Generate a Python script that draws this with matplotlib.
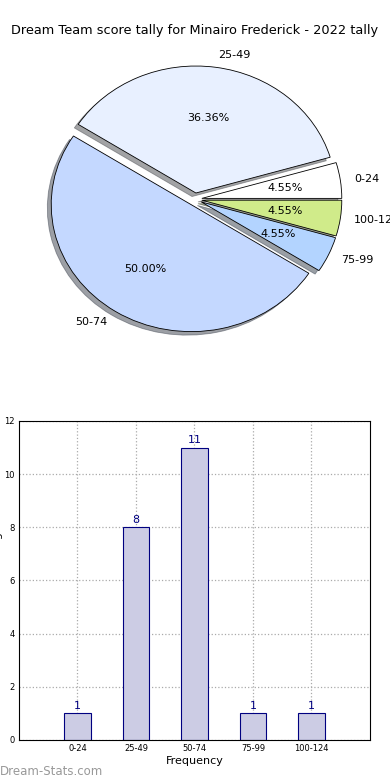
import matplotlib
matplotlib.use('Agg')
import matplotlib.pyplot as plt

# score ranges and how many games fell in each
ranges = ['0-24', '25-49', '50-74', '75-99', '100-124']
counts = [1, 8, 11, 1, 1]
pie_colors = ['#ffffff', '#e8f0ff', '#c4d8ff', '#b3d4ff', '#d0eb8a']
title = 'Dream Team score tally for Minairo Frederick - 2022 tally'

fig = plt.figure(figsize=(3.9, 7.8), dpi=100)

# Pie chart (top)
ax1 = fig.add_axes([0.0513, 0.541, 0.897, 0.407])
wedges, texts, autotexts = ax1.pie(
    counts, labels=ranges, colors=pie_colors, autopct='%1.2f%%',
    explode=[0.05] * len(counts), shadow=True, startangle=0,
    wedgeprops={'edgecolor': 'black', 'linewidth': 0.6},
    textprops={'fontsize': 8})
ax1.set_aspect('auto')
ax1.set_xlim(-1.25, 1.25)
ax1.set_ylim(-1.25, 1.25)
fig.text(0.5, 0.961, title, ha='center', va='center', fontsize=9.3)

# Bar chart (bottom)
ax2 = fig.add_axes([0.0487, 0.0513, 0.9, 0.409])
x = list(range(len(ranges)))
ax2.bar(x, counts, width=0.45, color='#ccccE4', edgecolor='navy', linewidth=0.8, zorder=2)
for xi, c in zip(x, counts):
    ax2.text(xi, c + 0.1, str(c), ha='center', va='bottom', color='navy', fontsize=8)
ax2.set_xlim(-1, 5)
ax2.set_ylim(0, 12)
ax2.set_xticks(x)
ax2.set_xticklabels(ranges)
ax2.set_yticks(range(0, 13, 2))
ax2.tick_params(labelsize=6, length=0, pad=3)
ax2.grid(True, linestyle=':', color='#aaaaaa', linewidth=0.9)
ax2.set_axisbelow(True)
ax2.set_xlabel('Frequency', fontsize=8, labelpad=2)
ax2.set_ylabel('Scores in this range', fontsize=8, labelpad=1)
for s in ax2.spines.values():
    s.set_linewidth(0.8)

fig.text(0.0, 0.003, 'Dream-Stats.com', color='#999999', fontsize=8.5, ha='left', va='bottom')

fig.savefig('out.png', dpi=100)
